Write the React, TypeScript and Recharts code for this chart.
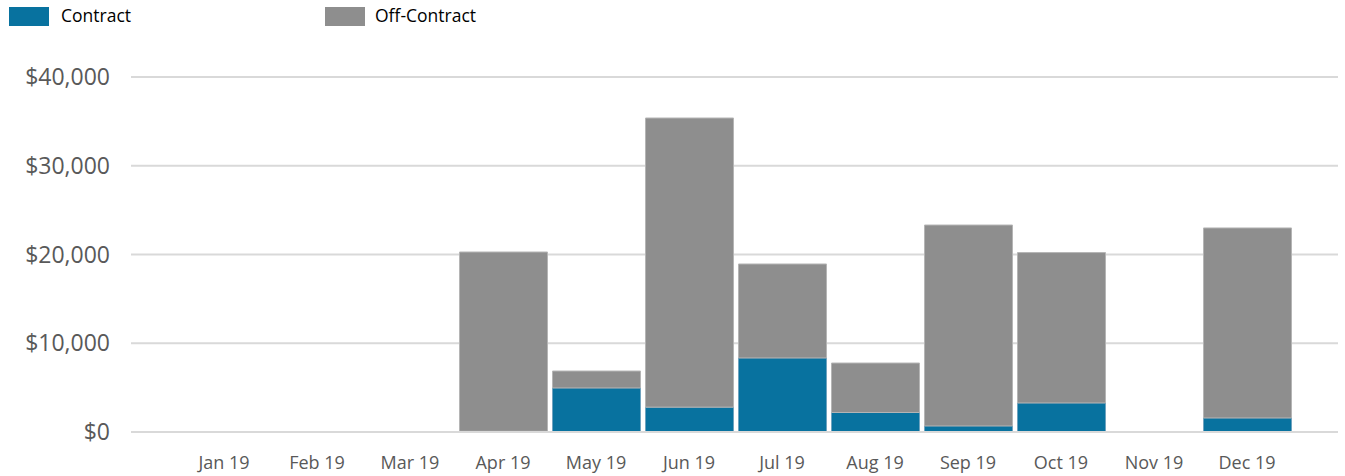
import React from "react";
import { BarChart, Bar, XAxis, YAxis, CartesianGrid, Legend } from "recharts";

const months = ["Jan 19", "Feb 19", "Mar 19", "Apr 19", "May 19", "Jun 19", "Jul 19", "Aug 19", "Sep 19", "Oct 19", "Nov 19", "Dec 19"];
const contract = [0, 0, 0, 80, 4960, 2800, 8340, 2200, 680, 3270, 0, 1580];
const offContract = [0, 0, 0, 20200, 1910, 32580, 10590, 5570, 22640, 16950, 0, 21410];
const yTicks = [0, 10000, 20000, 30000, 40000];

const BLUE = "#08729f";
const GRAY = "#8e8e8e";
const FONT = "'Open Sans', sans-serif";
const LEGEND_H = 30;

const chartData = months.map((m, i) => ({
  name: m,
  contract: contract[i],
  offContract: offContract[i]
}));

const formatMoney = (v: number) => "$" + v.toLocaleString("en-US");

function LegendBox() {
  return (
    <div style={{ position: "relative", height: LEGEND_H, fontFamily: FONT, fontSize: 17.5, color: "#000" }}>
      <div style={{ position: "absolute", left: 9, top: 7, width: 40, height: 19, background: BLUE }} />
      <span style={{ position: "absolute", left: 61, top: 3 }}>Contract</span>
      <div style={{ position: "absolute", left: 325, top: 7, width: 40, height: 19, background: GRAY }} />
      <span style={{ position: "absolute", left: 375, top: 3 }}>Off-Contract</span>
    </div>
  );
}

export default function App() {
  return (
    <div style={{ position: "absolute", left: 0, top: 0, background: "#fff" }}>
      <BarChart
        width={1345}
        height={476}
        data={chartData}
        margin={{ top: 77 - LEGEND_H, right: 7, left: 0, bottom: 0 }}
      >
        <Legend
          verticalAlign="top"
          align="left"
          height={LEGEND_H}
          content={() => <LegendBox />}
          wrapperStyle={{ top: 0, left: 0, width: 600 }}
        />
        <CartesianGrid vertical={false} stroke="#d9d9d9" strokeWidth={2} />
        <XAxis
          dataKey="name"
          height={44}
          padding={{ left: 46.5, right: 44.5 }}
          tickLine={false}
          axisLine={{ stroke: "#d9d9d9", strokeWidth: 2 }}
          tickSize={0}
          tickMargin={24}
          interval={0}
          tick={{ fill: "#595959", fontSize: 18, fontFamily: FONT }}
        />
        <YAxis
          width={131}
          domain={[0, 40000]}
          ticks={yTicks}
          tickFormatter={formatMoney}
          axisLine={false}
          tickLine={false}
          tickSize={0}
          tickMargin={21}
          tick={{ fill: "#595959", fontSize: 23, fontFamily: FONT }}
        />
        <Bar dataKey="contract" stackId="a" fill={BLUE} stroke="#5a8fae" strokeWidth={0.5} barSize={88} isAnimationActive={false} />
        <Bar dataKey="offContract" stackId="a" fill={GRAY} stroke="#b5b5b5" strokeWidth={1} barSize={88} isAnimationActive={false} />
      </BarChart>
    </div>
  );
}
